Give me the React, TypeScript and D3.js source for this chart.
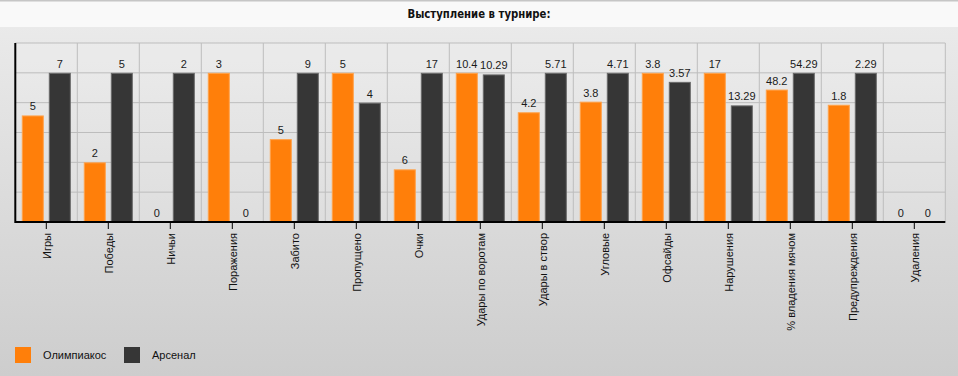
import React from "react";
import * as d3 from "d3";

const categories = [
  "Игры", "Победы", "Ничьи", "Поражения", "Забито", "Пропущено", "Очки",
  "Удары по воротам", "Удары в створ", "Угловые", "Офсайды", "Нарушения",
  "% владения мячом", "Предупреждения", "Удаления",
];
const olympiacos = [5, 2, 0, 3, 5, 5, 6, 10.4, 4.2, 3.8, 3.8, 17, 48.2, 1.8, 0];
const arsenal = [7, 5, 2, 0, 9, 4, 17, 10.29, 5.71, 4.71, 3.57, 13.29, 54.29, 2.29, 0];
const seriesNames = ["Олимпиакос", "Арсенал"];
const gridTicks = [0, 0.2, 0.4, 0.6, 0.8, 1.0, 1.2];

const W = 958;
const H = 376;
const colors = ["#ff7f0a", "#363636"];
const strokes = ["#ffa24a", "#6a6a6a"];
const FONT = "'Liberation Sans', Arial, sans-serif";

export default function App() {
  const left = 15.3;
  const right = 945.3;
  const top = 43;
  const bottom = 222;

  const x = d3.scaleBand<string>().domain(categories).range([left, right]).padding(0);
  const sub = d3
    .scaleBand<number>()
    .domain([0, 1])
    .range([0, x.bandwidth()])
    .paddingInner(5 / 27)
    .paddingOuter(0.24);
  const y = d3.scaleLinear().domain([0, 1.2]).range([bottom, top]);

  const series = [olympiacos, arsenal];

  return (
    <div style={{ position: "absolute", left: 0, top: 0, width: W, height: H }}>
      <svg width={W} height={H} style={{ display: "block" }}>
        <defs>
          <linearGradient id="bg" x1="0" y1="0" x2="0" y2="1">
            <stop offset="0" stopColor="#ececec" />
            <stop offset="1" stopColor="#cdcdcd" />
          </linearGradient>
        </defs>
        <rect x={0} y={0} width={W} height={H} fill="url(#bg)" />
        <rect x={0} y={0} width={W} height={27} fill="#f9f9f9" />
        <rect x={0} y={0} width={W} height={1.5} fill="#c6c6c6" />
        <text
          x={W / 2}
          y={18}
          textAnchor="middle"
          fontFamily="'Liberation Sans Narrow', 'DejaVu Sans Condensed', sans-serif"
          fontWeight="bold"
          fontSize={12}
          fill="#111"
          textLength={143}
          lengthAdjust="spacingAndGlyphs"
        >
          Выступление в турнире:
        </text>

        {/* plot area */}
        <rect x={left} y={top} width={right - left} height={bottom - top} fill="#ffffff" opacity={0.12} />
        {gridTicks.map((t) => (
          <line key={"h" + t} x1={left} x2={right} y1={y(t)} y2={y(t)} stroke="#bdbdbd" strokeWidth={1} />
        ))}
        {categories.map((c) => (
          <line
            key={"v" + c}
            x1={(x(c) as number) + x.bandwidth()}
            x2={(x(c) as number) + x.bandwidth()}
            y1={top}
            y2={bottom}
            stroke="#bdbdbd"
            strokeWidth={1}
          />
        ))}

        {/* bars */}
        {categories.map((c, i) => {
          const mx = Math.max(olympiacos[i], arsenal[i]);
          return series.map((s, k) => {
            const v = s[i];
            const n = mx > 0 ? v / mx : 0;
            const bx = (x(c) as number) + (sub(k) as number);
            const by = y(n);
            const bw = sub.bandwidth();
            return (
              <g key={c + k}>
                {n > 0 && (
                  <rect
                    x={bx + 0.5}
                    y={by + 0.5}
                    width={bw - 1}
                    height={bottom - by - 0.5}
                    fill={colors[k]}
                    stroke={strokes[k]}
                    strokeWidth={1}
                  />
                )}
                <text
                  x={bx + bw / 2}
                  y={by - 5}
                  textAnchor="middle"
                  fontFamily={FONT}
                  fontSize={11}
                  fill="#1a1a1a"
                >
                  {String(v)}
                </text>
              </g>
            );
          });
        })}

        {/* axes */}
        <line x1={left} x2={right} y1={bottom} y2={bottom} stroke="#000" strokeWidth={2} />
        <line x1={left} x2={left} y1={top} y2={bottom + 1} stroke="#000" strokeWidth={2} />
        {categories.map((c) => {
          const cx = (x(c) as number) + x.bandwidth() / 2;
          return (
            <g key={"t" + c}>
              <line x1={cx} x2={cx} y1={bottom} y2={229} stroke="#000" strokeWidth={1} />
              <text
                transform={`translate(${cx + 1},233) rotate(-90)`}
                textAnchor="end"
                dy="0.35em"
                fontFamily={FONT}
                fontSize={11}
                fill="#111"
              >
                {c}
              </text>
            </g>
          );
        })}

        {/* legend */}
        {seriesNames.map((name, k) => {
          const lx = [15, 124][k];
          return (
            <g key={name}>
              <rect x={lx} y={347} width={16} height={16} fill={colors[k]} />
              <text x={lx + 28} y={355} dy="0.35em" fontFamily={FONT} fontSize={11} fill="#111">
                {name}
              </text>
            </g>
          );
        })}
      </svg>
    </div>
  );
}
